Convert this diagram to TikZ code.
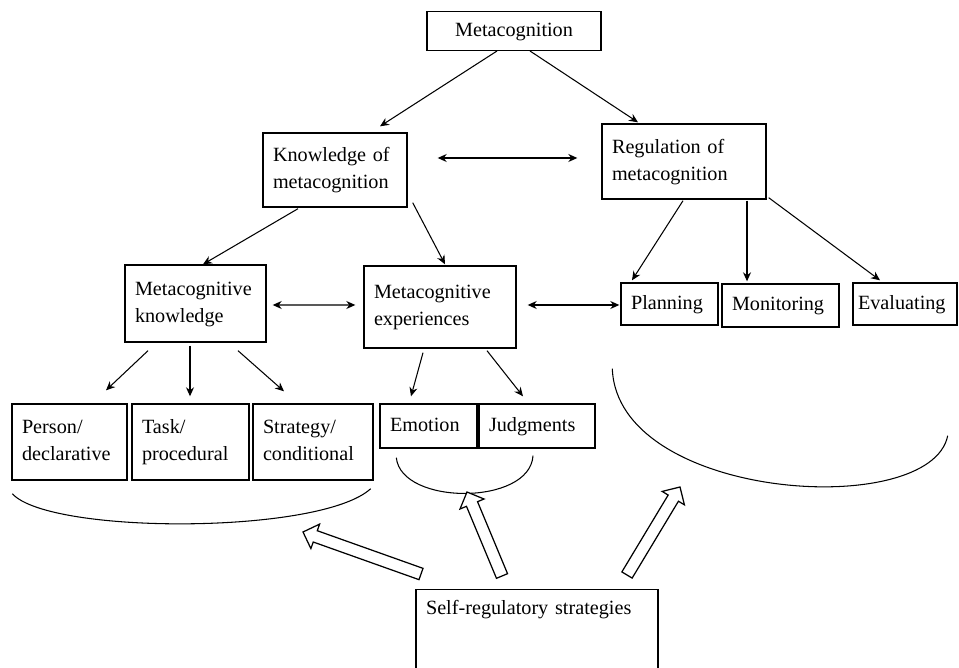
\documentclass[tikz,border=0pt]{standalone}
\usepackage{fontspec}
\setmainfont{Liberation Serif}
\usepackage{tikz}
\usetikzlibrary{positioning,arrows.meta,calc}

% hollow block arrow from #1 to #2
\newcommand\hollowarrow[2]{%
  \draw[blockarrow] ($(#1)!0.12cm!90:(#2)$)
    -- ($(#2)!0.26cm!(#1)!0.12cm!-90:(#1)$)
    -- ($(#2)!0.26cm!(#1)!0.26cm!-90:(#1)$)
    -- (#2)
    -- ($(#2)!0.26cm!(#1)!0.26cm!90:(#1)$)
    -- ($(#2)!0.26cm!(#1)!0.12cm!90:(#1)$)
    -- ($(#1)!0.12cm!-90:(#2)$) -- cycle;}

\begin{document}
\begin{tikzpicture}[
    x=0.02cm, y=-0.02cm,
    box/.style={rectangle, draw, line width=0.8pt, align=left, inner xsep=0.2cm, font=\fontsize{11.5}{15.3}\selectfont,
        execute at begin node=\strut, execute at end node=\strut},
    arrow/.style={-{Stealth[length=1.8mm, width=1.6mm]}, line width=0.6pt},
    dblarrow/.style={{Stealth[length=1.8mm, width=1.6mm]}-{Stealth[length=1.8mm, width=1.6mm]}, line width=0.6pt},
    curve/.style={line width=0.6pt},
    blockarrow/.style={line width=0.7pt, fill=white, line join=miter}
]
\useasboundingbox (0,0) rectangle (959,668);
\clip (0,0) rectangle (959,668);

% Row 1: Top
\node[box, align=center, text width=3.08cm, minimum height=0.76cm] (meta) at (514,31) {Metacognition};

% Row 2: Knowledge / Regulation
\node[box, text width=2.48cm, minimum height=1.48cm] (know) at (335,170) {Knowledge of\\metacognition};
\node[box, text width=2.88cm, minimum height=1.50cm] (reg) at (684,161.5) {Regulation of\\metacognition};

% Row 3: Knowledge, Experiences, Regulation parts
\node[box, text width=2.42cm, minimum height=1.54cm] (mk) at (195.5,303.5) {Metacognitive\\knowledge};
\node[box, text width=2.64cm, minimum height=1.64cm] (me) at (440,307) {Metacognitive\\experiences};
\node[box, text width=1.54cm, minimum height=0.84cm] (plan) at (669.5,304) {Planning};
\node[box, text width=1.94cm, minimum height=0.86cm] (mon) at (780.5,305.5) {Monitoring};
\node[box, text width=1.88cm, inner xsep=0.1cm, minimum height=0.84cm] (eval) at (905,304) {Evaluating};

% Row 4: Subtypes
\node[box, text width=1.90cm, minimum height=1.52cm] (person) at (69.5,442) {Person/\\declarative};
\node[box, text width=1.94cm, minimum height=1.52cm] (task) at (190.5,442) {Task/\\procedural};
\node[box, text width=2.00cm, minimum height=1.52cm] (strat) at (313,442) {Strategy/\\conditional};
\node[box, text width=1.54cm, minimum height=0.88cm] (emo) at (428.5,426) {Emotion};
\node[box, text width=1.92cm, minimum height=0.88cm] (judg) at (537,426) {Judgments};

% Row 5: Strategies
\node[box, anchor=north, text width=4.44cm, text height=10pt, text depth=60pt, inner ysep=4pt] (self) at (537,589) {Self-regulatory strategies};

% Arrows Row 1->2
\draw[arrow] ([shift={(-17,0)}]meta.south) -- ([shift={(45,-6)}]know.north);
\draw[arrow] ([shift={(16,0)}]meta.south) -- ([shift={(-46,-1)}]reg.north);
\draw[dblarrow] ([shift={(30,-12)}]know.east) -- ([shift={(-24,-3.5)}]reg.west);

% Arrows Row 2->3
\draw[arrow] ([shift={(-37,1)}]know.south) -- ([shift={(7.5,0)}]mk.north);
\draw[arrow] ([shift={(5,-5)}]know.south east) -- ([shift={(5,-1)}]me.north);
\draw[arrow] ([shift={(-1,1)}]reg.south) -- ([shift={(-37.5,-2)}]plan.north);
\draw[arrow] ([shift={(63,1)}]reg.south) -- ([shift={(-33.5,-2)}]mon.north);
\draw[arrow] ([shift={(2,-2)}]reg.south east) -- ([shift={(-25,-2)}]eval.north);
\draw[dblarrow] ([shift={(6,1.5)}]mk.east) -- ([shift={(-8,-2)}]me.west);
\draw[dblarrow] ([shift={(11,-2)}]me.east) -- ([shift={(-1,1)}]plan.west);

% Arrows Row 3->4
\draw[arrow] ([shift={(-47.5,8)}]mk.south) -- ([shift={(36.5,-13)}]person.north);
\draw[arrow] ([shift={(-5.5,3)}]mk.south) -- ([shift={(-0.5,-7)}]task.north);
\draw[arrow] ([shift={(42.5,8)}]mk.south) -- ([shift={(-29,-12)}]strat.north);
\draw[arrow] ([shift={(-17,4)}]me.south) -- ([shift={(-17.5,-7)}]emo.north);
\draw[arrow] ([shift={(47,2)}]me.south) -- ([shift={(-14,-7)}]judg.north);

% Brackets under groups
\draw[curve] ([shift={(1,13)}]person.south west) .. controls +(37,41) and +(-50,46) .. ([shift={(-3,8)}]strat.south east);
\draw[curve] ([shift={(17,9)}]emo.south west) .. controls +(5,48) and +(-3,50) .. ([shift={(-4,7)}]judg.south);
\draw[curve] ([shift={(-8,43)}]plan.south west) .. controls +(5,132) and +(-17,85) .. ([shift={(-10,110)}]eval.south east);

% Block arrows from strategies
\coordinate (tailL) at ([shift={(-116,-15)}]self.north);
\coordinate (tailM) at ([shift={(-35,-13)}]self.north);
\coordinate (tailR) at ([shift={(90,-14)}]self.north);
\coordinate (tipL) at (303,532);
\coordinate (tipM) at (467,492);
\coordinate (tipR) at (680,487);
\hollowarrow{tailL}{tipL}
\hollowarrow{tailM}{tipM}
\hollowarrow{tailR}{tipR}

\end{tikzpicture}
\end{document}
